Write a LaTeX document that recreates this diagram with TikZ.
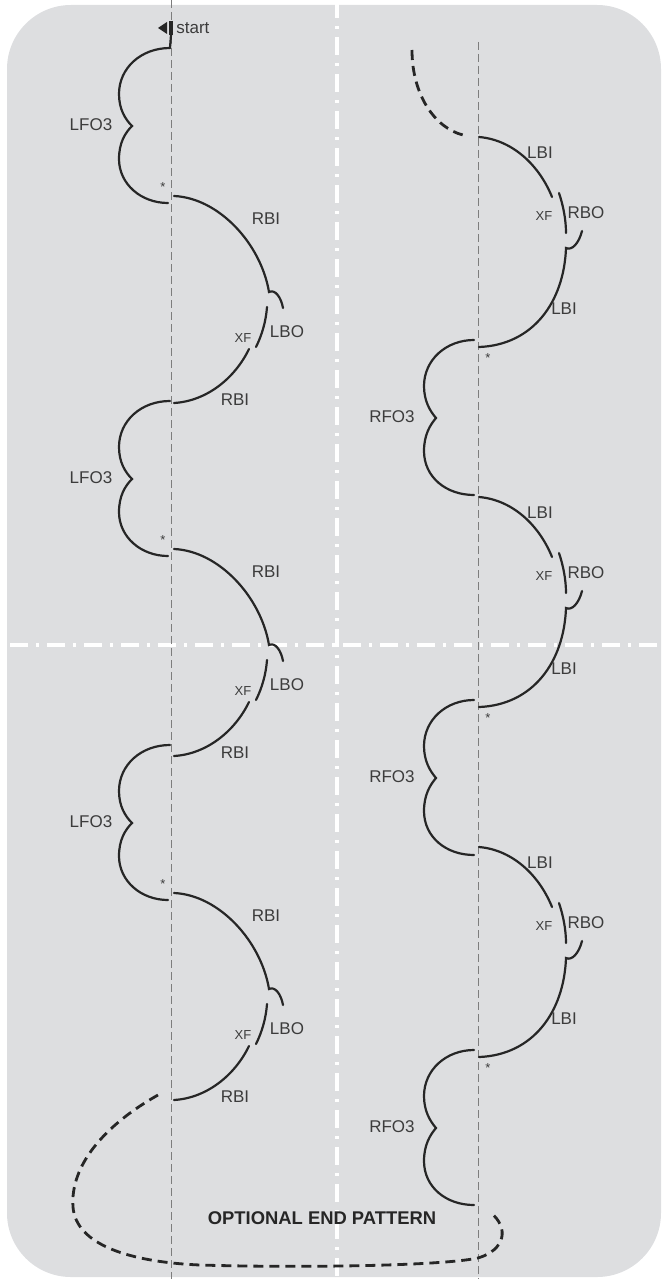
\documentclass[tikz,border=0pt]{standalone}
\usepackage{fontspec}
\setmainfont{Liberation Sans}
\usetikzlibrary{positioning}

\definecolor{panel}{RGB}{221,222,224}
\definecolor{ink}{RGB}{38,38,38}
\definecolor{guide}{RGB}{125,125,125}

\tikzset{
  edge/.style={draw=ink, line width=1.1pt, line cap=round},
  guideline/.style={draw=guide, line width=0.5pt, dash pattern=on 4pt off 2pt},
  axis/.style={draw=white, line width=2pt, dash pattern=on 9pt off 4pt on 1.5pt off 4pt},
  endpath/.style={draw=ink, line width=1.4pt, dash pattern=on 5pt off 3pt},
  lab/.style={text=ink!90, font=\fontsize{8.5}{10}\selectfont, inner sep=0pt},
  small/.style={text=ink!90, font=\fontsize{6.5}{8}\selectfont, inner sep=0pt},
}

\begin{document}
\begin{tikzpicture}[x=0.5pt, y=-0.5pt]
\useasboundingbox (0,0) rectangle (663,1279);

% panel and centre lines
\fill[panel, rounded corners=32pt] (7,5) rectangle (661,1277);
\draw[axis] (337,0) -- (337,1279);
\draw[axis] (10,645) -- (663,645);

% long axes of the two halves
\draw[guideline] (171,0) -- (171,1279);
\draw[guideline] (478,42) -- (478,1279);

% start mark
\fill[ink] (158,28) -- (167,22) -- (167,34) -- cycle;
\draw[ink, line width=2pt] (171,21) -- (171,35);
\node[lab, anchor=west] (start) at (176,28) {start};
\draw[edge] (171,35) -- (170,48);

% left half: LFO3 then RBI - XF LBO - RBI
\foreach \L/\i in {196/1,549/2,893/3}
{
  \begin{scope}[shift={(171,\L)}]
    \draw[edge] (-1,-148) .. controls (-30,-148) and (-52,-128) .. (-52,-102)
      .. controls (-52,-87) and (-46,-77) .. (-39,-70)
      .. controls (-46,-63) and (-52,-53) .. (-52,-37)
      .. controls (-52,-12) and (-30,7) .. (-3,7);
    \draw[edge] (3,0) .. controls (48,2) and (90,48) .. (98,96)
      .. controls (104,93) and (110,101) .. (112,112);
    \draw[edge] (96,111) .. controls (95,125) and (91,139) .. (85,151);
    \draw[edge] (78,153) .. controls (64,182) and (36,205) .. (3,207);
    \node[lab] (lfo\i) at (-80,-71) {LFO3};
    \node[small] (starL\i) at (-8,-9) {*};
    \node[lab] (rbiA\i) at (95,23) {RBI};
    \node[small] (xfL\i) at (72,142) {XF};
    \node[lab] (lbo\i) at (116,136) {LBO};
    \node[lab] (rbiB\i) at (64,204) {RBI};
  \end{scope}
}

% right half: LBI - XF RBO - LBI then RFO3
\foreach \R/\i in {137/1,497/2,847/3}
{
  \begin{scope}[shift={(478,\R)}]
    \draw[edge] (1,0) .. controls (36,3) and (62,30) .. (74,60);
    \draw[edge] (81,56) .. controls (85,68) and (88,82) .. (88,96);
    \draw[edge] (104,94) .. controls (101,106) and (94,114) .. (88,111)
      .. controls (86,165) and (55,208) .. (1,210);
    \draw[edge] (-4,203) .. controls (-32,203) and (-54,223) .. (-54,249)
      .. controls (-54,264) and (-48,274) .. (-42,281)
      .. controls (-48,288) and (-54,298) .. (-54,314)
      .. controls (-54,340) and (-32,358) .. (-4,358);
    \node[lab] (lbiA\i) at (62,16) {LBI};
    \node[small] (xfR\i) at (66,79) {XF};
    \node[lab] (rbo\i) at (108,76) {RBO};
    \node[lab] (lbiB\i) at (86,172) {LBI};
    \node[small] (starR\i) at (10,221) {*};
    \node[lab] (rfo\i) at (-86,280) {RFO3};
  \end{scope}
}

% optional end pattern
\draw[endpath] (412,50) .. controls (412,95) and (435,128) .. (463,135);
\draw[endpath] (158,1095) .. controls (105,1125) and (70,1165) .. (73,1207)
  .. controls (76,1245) and (130,1262) .. (200,1265)
  .. controls (300,1268) and (440,1266) .. (478,1258)
  .. controls (505,1250) and (510,1228) .. (490,1212);
\node[text=ink, font=\fontsize{9.2}{11}\selectfont\bfseries, inner sep=0pt] (endlabel) at (322,1218) {OPTIONAL END PATTERN};

\end{tikzpicture}
\end{document}
